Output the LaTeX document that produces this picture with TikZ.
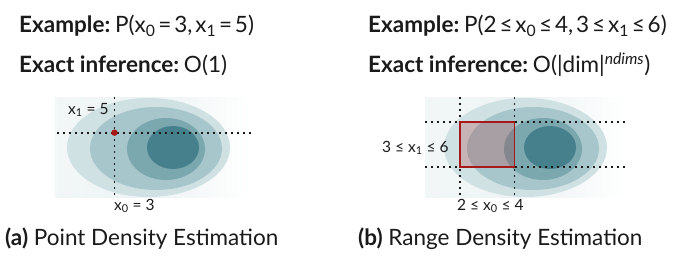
\documentclass[tikz,border=0pt]{standalone}
\usepackage{fontspec}
\setmainfont{Lato}
\newfontfamily\headfont{Lato}[WordSpace=0.5]
\newcommand\headkey[1]{{\rmfamily\bfseries #1}}
\usetikzlibrary{positioning}
\definecolor{DensityBg}{HTML}{EDF3F4}
\definecolor{DensityOuter}{HTML}{D0E1E4}
\definecolor{DensityMid}{HTML}{A7C6CB}
\definecolor{DensityInner}{HTML}{7BA7AF}
\definecolor{DensityCore}{HTML}{46808C}
\definecolor{Ink}{HTML}{1A1A1A}
\definecolor{QueryRed}{HTML}{A81818}

\begin{document}
\begin{tikzpicture}[x=1pt, y=-1pt, every node/.style={inner sep=0pt,text=Ink},
    head/.style={anchor=base west,font=\headfont\fontsize{22.5}{27}\selectfont},
    caption/.style={anchor=base west,font=\fontsize{22.5}{27}\selectfont},
    axislabel/.style={anchor=base west,font=\fontsize{15.5}{18}\selectfont},
    guide/.style={Ink,line width=1.6pt,dash pattern=on 1.6pt off 4.4pt}]
    \useasboundingbox (0,0) rectangle (677,257);
    \shade[left color=DensityBg!70,right color=white,middle color=DensityBg] (55,97) rectangle (250,197);
    \shade[left color=DensityBg!70,right color=white,middle color=DensityBg] (425,97) rectangle (627,197);
    \foreach \dx in {0,377} {
        \fill[DensityOuter] (148.5+\dx,147.5) ellipse [x radius=81.5pt,y radius=49.5pt];
        \fill[DensityMid] (156+\dx,148.5) ellipse [x radius=66pt,y radius=41.5pt];
        \fill[DensityInner] (166+\dx,149) ellipse [x radius=39pt,y radius=31pt];
        \fill[DensityCore] (173+\dx,147.5) ellipse [x radius=26pt,y radius=21.5pt];
    }
    \coordinate (pxtop) at (114.5,97);
    \coordinate (pxbot) at (114.5,196);
    \coordinate (pyleft) at (57,132.7);
    \coordinate (pyright) at (252,132.7);
    \draw[guide] (pxtop) -- (pxbot);
    \draw[guide] (pyleft) -- (pyright);
    \fill[QueryRed] (114.5,132.7) circle [radius=3.2pt];
    \node[axislabel] (pylabel) at (68,114) {x\textsubscript{1} = 5};
    \node[axislabel] (pxlabel) at (114,210) {x\textsubscript{0} = 3};
    \coordinate (rlo) at (460,122);
    \coordinate (rhi) at (514.5,167);
    \draw[guide] (460,97) -- (460,196);
    \draw[guide] (514.5,97) -- (514.5,196);
    \draw[guide] (425,122) -- (628,122);
    \draw[guide] (425,167) -- (628,167);
    \draw[QueryRed,line width=1.3pt,fill=QueryRed,fill opacity=0.22] (rlo) rectangle (rhi);
    \node[axislabel] (rylabel) at (382,152) {3 ≤ x\textsubscript{1} ≤ 6};
    \node[axislabel] (rxlabel) at (457,210) {2 ≤ x\textsubscript{0} ≤ 4};
    \node[head] (examplea) at (19,32) {\headkey{Example:} P(x\textsubscript{0} = 3, x\textsubscript{1} = 5)};
    \node[head] (costa) at (19,72) {\headkey{Exact inference:} O(1)};
    \node[head] (exampleb) at (368,32) {\headkey{Example:} P(2 ≤ x\textsubscript{0} ≤ 4, 3 ≤ x\textsubscript{1} ≤ 6)};
    \node[head] (costb) at (368,72) {\headkey{Exact inference:} O(|dim|\textsuperscript{\itshape ndims})};
    \node[caption] (capa) at (5,245) {\textbf{(a)} Point Density Estimation};
    \node[caption] (capb) at (358,245) {\textbf{(b)} Range Density Estimation};
  \end{tikzpicture}
\end{document}
